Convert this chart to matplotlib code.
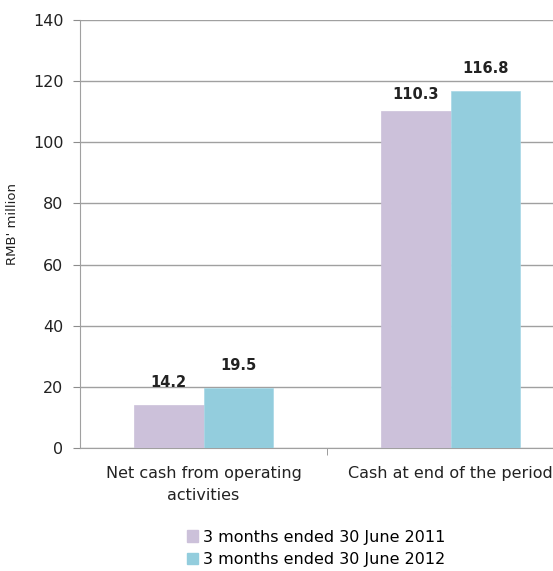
import numpy as np
import matplotlib
matplotlib.use("Agg")
import matplotlib.pyplot as plt
from matplotlib.patches import Patch

# chart data
categories = ["Net cash from operating\nactivities", "Cash at end of the period"]
series_names = ["3 months ended 30 June 2011", "3 months ended 30 June 2012"]
values_2011 = [14.2, 110.3]
values_2012 = [19.5, 116.8]
colors = ["#CCC1DA", "#93CDDD"]

# gap between bar top and label baseline
label_gap_2011 = [5.8, 4.0]
label_gap_2012 = [6.0, 5.9]

plt.rcParams['font.family'] = ['DejaVu Sans']

fig = plt.figure(figsize=(5.53, 5.71), dpi=100)
# axes spans from x=80px; right edge is clipped by the image border
ax = fig.add_axes([80 / 553, 1 - 448 / 571, 1 - 80 / 553, 428 / 571])

x = np.arange(len(categories))
w = 0.283
b1 = ax.bar(x - w / 2, values_2011, w, color=colors[0], edgecolor=colors[0], linewidth=0.5, zorder=3)
b2 = ax.bar(x + w / 2, values_2012, w, color=colors[1], edgecolor="#A8D8E6", linewidth=0.5, zorder=3)

for bars, vals, gaps in [(b1, values_2011, label_gap_2011), (b2, values_2012, label_gap_2012)]:
    for rect, v, g in zip(bars, vals, gaps):
        ax.text(rect.get_x() + rect.get_width() / 2, v + g, f"{v:.1f}",
                ha="center", va="baseline", fontsize=10.5, fontweight="bold", color="#222222")

ax.set_ylim(0, 140)
ax.set_yticks(range(0, 141, 20))
ax.set_xlim(-0.5, 1.5 - 21 / 247)
ax.set_xticks(x)
ax.set_xticklabels(categories, fontsize=11.5, color="#222222", linespacing=1.55)
ax.set_xticks([0.5], minor=True)
ax.tick_params(axis="x", which="major", length=0, pad=13)
ax.tick_params(axis="x", which="minor", length=5, color="#8C8C8C")
ax.tick_params(axis="y", length=5, color="#8C8C8C", labelsize=11.5, labelcolor="#222222", pad=7)

ax.grid(axis="y", color="#A0A0A0", linewidth=1, zorder=0)
for s in ["top", "right"]:
    ax.spines[s].set_visible(False)
ax.spines["left"].set_color("#A0A0A0")
ax.spines["bottom"].set_color("#A0A0A0")

ax.set_ylabel("RMB' million", fontsize=9.5, color="#222222")
ax.yaxis.set_label_coords(-0.129, 0.523)

handles = [Patch(facecolor=c, edgecolor=c) for c in colors]
fig.legend(handles, series_names, loc="center", bbox_to_anchor=(316 / 553, 1 - 548.5 / 571),
           frameon=False, fontsize=11.5, handlelength=0.7, handleheight=0.7,
           handletextpad=0.3, labelspacing=0.5, borderpad=0)

fig.savefig("out.png", dpi=100)
